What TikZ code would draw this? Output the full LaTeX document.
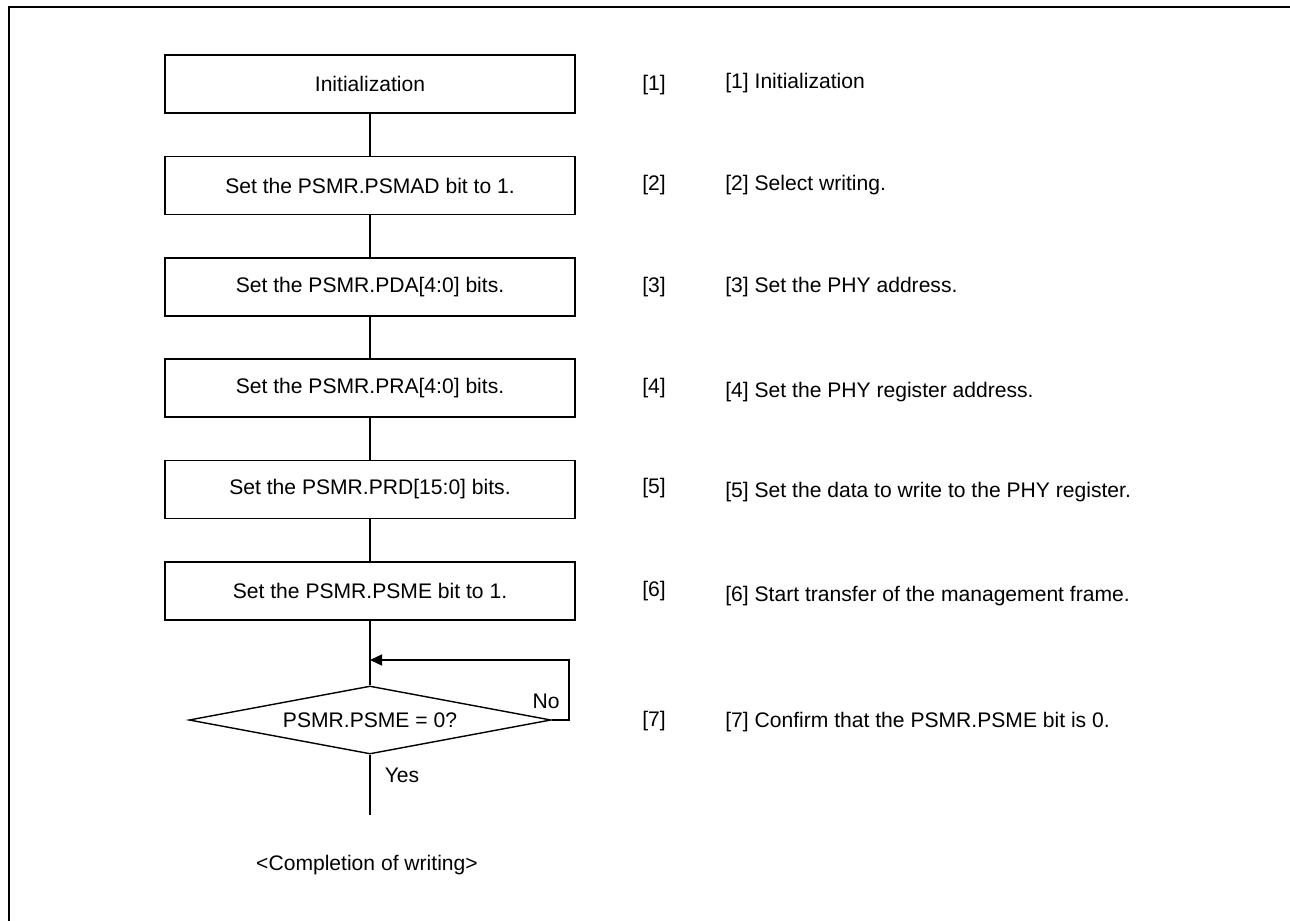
\documentclass[tikz,border=0pt]{standalone}
\usepackage{fontspec}
\setmainfont{Liberation Sans}
\usetikzlibrary{arrows.meta,positioning,shapes.geometric}

\begin{document}
\begin{tikzpicture}[
	font=\fontsize{12}{14}\selectfont,
	stepbox/.style={draw=black, fill=white, line width=0.8pt, align=center, minimum width=8.2cm, minimum height=1.16cm, inner sep=0pt},
	decision/.style={draw=black, fill=white, line width=0.8pt, diamond, aspect=5.3, minimum width=7.24cm, minimum height=1.36cm, inner sep=0pt},
	tag/.style={anchor=west, inner sep=0pt},
	note/.style={anchor=west, inner sep=0pt},
	flow/.style={draw=black, line width=0.8pt},
	link/.style={-{Triangle[length=2.4mm, width=2.2mm]}, draw=black, line width=0.8pt},
	frame/.style={draw=black, line width=1.7pt}
]
\useasboundingbox (0,0) rectangle (25.8,-18.42);
\draw[frame] (25.8,-0.14) -- (0.18,-0.14) -- (0.18,-18.42);

\node[stepbox] (init) at (7.40,-1.68) {Initialization};
\node[stepbox] (psmad) at (7.40,-3.71) {Set the PSMR.PSMAD bit to 1.};
\node[stepbox] (pda) at (7.40,-5.74) {Set the PSMR.PDA[4:0] bits.};
\node[stepbox] (pra) at (7.40,-7.76) {Set the PSMR.PRA[4:0] bits.};
\node[stepbox] (prd) at (7.40,-9.79) {Set the PSMR.PRD[15:0] bits.};
\node[stepbox] (psme) at (7.40,-11.82) {Set the PSMR.PSME bit to 1.};
\node[decision] (check) at (7.40,-14.40) {PSMR.PSME = 0?};

\coordinate (looptop) at (7.40,-13.20);
\coordinate (loopright) at (11.38,-13.20);
\coordinate (finish) at (7.40,-16.30);

\node (no) at (10.92,-14.02) {No};
\node (yes) at (8.04,-15.50) {Yes};
\node (done) at (7.34,-17.30) {<Completion of writing>};

\node[tag] (tag1) at (12.84,-1.70) {[1]};
\node[tag] (tag2) at (12.84,-3.71) {[2]};
\node[tag] (tag3) at (12.84,-5.74) {[3]};
\node[tag] (tag4) at (12.84,-7.76) {[4]};
\node[tag] (tag5) at (12.84,-9.76) {[5]};
\node[tag] (tag6) at (12.84,-11.82) {[6]};
\node[tag] (tag7) at (12.84,-14.42) {[7]};

\node[note] (note1) at (14.50,-1.66) {[1] Initialization};
\node[note] (note2) at (14.50,-3.71) {[2] Select writing.};
\node[note] (note3) at (14.50,-5.74) {[3] Set the PHY address.};
\node[note] (note4) at (14.50,-7.84) {[4] Set the PHY register address.};
\node[note] (note5) at (14.50,-9.84) {[5] Set the data to write to the PHY register.};
\node[note] (note6) at (14.50,-11.92) {[6] Start transfer of the management frame.};
\node[note] (note7) at (14.50,-14.44) {[7] Confirm that the PSMR.PSME bit is 0.};

\draw[flow] (init) -- (psmad);
\draw[flow] (psmad) -- (pda);
\draw[flow] (pda) -- (pra);
\draw[flow] (pra) -- (prd);
\draw[flow] (prd) -- (psme);
\draw[flow] (psme) -- (check);
\draw[flow] (check) -- (finish);
\draw[link] (check.east) -| (loopright) -- (looptop);
\end{tikzpicture}
\end{document}
